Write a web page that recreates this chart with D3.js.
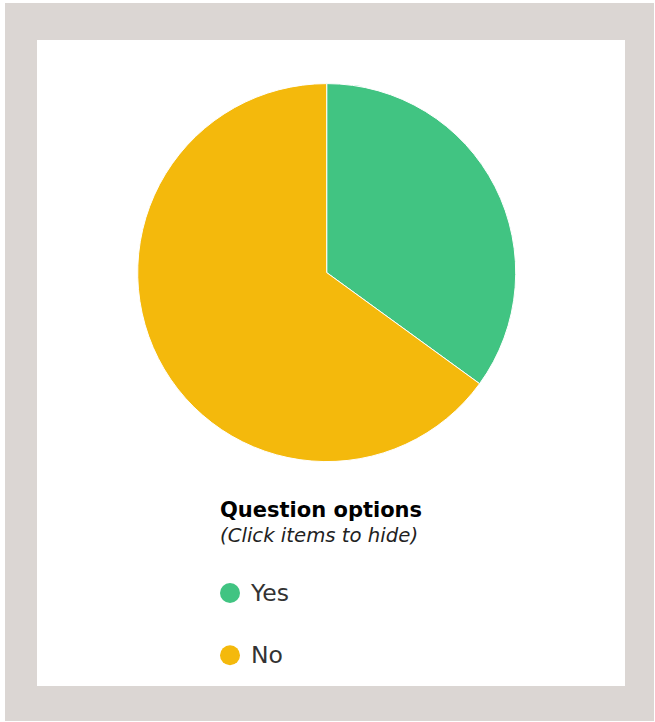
<!DOCTYPE html>
<html>
<head>
<meta charset="utf-8">
<script src="https://cdn.jsdelivr.net/npm/d3@7/dist/d3.min.js"></script>
<style>
  html, body { margin: 0; padding: 0; background: #ffffff; }
  svg { display: block; }
</style>
</head>
<body>
<svg id="chart" width="655" height="722"></svg>
<script>
// Poll answers
const categories = ["Yes", "No"];
const values = [35, 65];
const colors = ["#41c482", "#f4b90c"];

const legendTitle = "Question options";
const legendHint = "(Click items to hide)";

const svg = d3.select("#chart");

// Frame and panel
svg.append("rect").attr("x", 5).attr("y", 3).attr("width", 649).attr("height", 718).attr("fill", "#dbd6d3");
svg.append("rect").attr("x", 37).attr("y", 40).attr("width", 588).attr("height", 646).attr("fill", "#ffffff");

const cx = 326.7, cy = 272.6, radius = 189;

const color = d3.scaleOrdinal().domain(categories).range(colors);

const pie = d3.pie().sort(null).value(d => d.value);
const arc = d3.arc().innerRadius(0).outerRadius(radius);

const data = categories.map((c, i) => ({ category: c, value: values[i] }));

const g = svg.append("g").attr("transform", `translate(${cx},${cy})`);
g.selectAll("path")
  .data(pie(data))
  .join("path")
  .attr("d", arc)
  .attr("fill", d => color(d.data.category))
  .attr("stroke", "#ffffff")
  .attr("stroke-width", 1);

// Legend
const font = "'DejaVu Sans', sans-serif";
const legend = svg.append("g").attr("transform", "translate(220,0)");
legend.append("text")
  .attr("x", 0).attr("y", 517)
  .attr("font-family", font).attr("font-weight", "bold").attr("font-size", 21)
  .attr("fill", "#000000")
  .text(legendTitle);
legend.append("text")
  .attr("x", 0).attr("y", 542)
  .attr("font-family", font).attr("font-style", "italic").attr("font-size", 19.7)
  .attr("fill", "#222222")
  .text(legendHint);

const itemY = d3.scalePoint().domain(categories).range([593, 655.3]);
const items = legend.selectAll("g.item")
  .data(data)
  .join("g")
  .attr("class", "item")
  .attr("transform", d => `translate(0,${itemY(d.category)})`);
items.append("circle")
  .attr("cx", 10).attr("cy", 0).attr("r", 10)
  .attr("fill", d => color(d.category));
items.append("text")
  .attr("x", 31).attr("y", 8)
  .attr("font-family", font).attr("font-size", 23.5)
  .attr("fill", "#333333")
  .text(d => d.category);
</script>
</body>
</html>
